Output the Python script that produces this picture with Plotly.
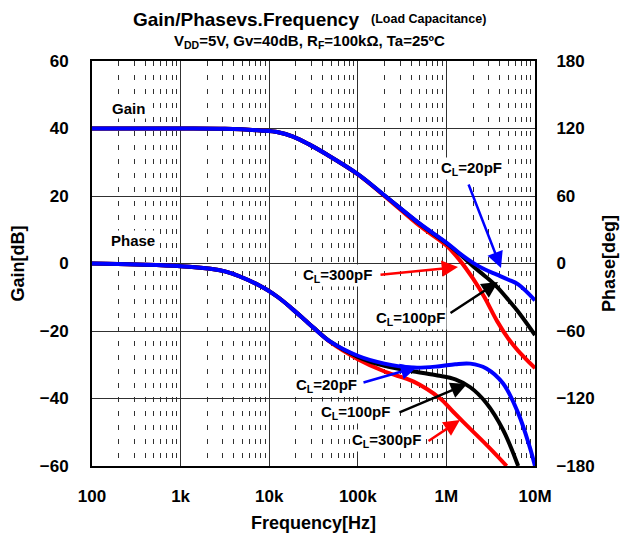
import plotly.graph_objects as go

# ---------------- data ----------------
x_tick_vals = [100, 1000, 10000, 100000, 1000000, 10000000]
x_tick_labels = ["100", "1k", "10k", "100k", "1M", "10M"]
gain_tick_vals = [-60, -40, -20, 0, 20, 40, 60]
phase_tick_vals = [-180, -120, -60, 0, 60, 120, 180]

gain_freq_hz = [100, 1000, 3160, 7940, 12600, 18600, 28200, 44700, 100000, 204000, 501000,
                1000000, 1410000, 2000000, 2690000, 3720000, 5010000, 6460000, 10000000]
gain_20pF = [40, 40, 39.9, 39.4, 38.9, 37.6, 35.3, 32.3, 26.5, 20.0, 11.8,
             6.2, 3.0, 0.2, -1.7, -3.3, -4.8, -6.2, -10.9]
gain_100pF = [40, 40, 39.9, 39.4, 38.9, 37.6, 35.3, 32.3, 26.5, 20.0, 11.7,
              6.0, 2.8, -0.8, -3.6, -6.9, -10.8, -14.3, -21.2]
gain_300pF = [40, 40, 39.9, 39.4, 38.9, 37.6, 35.3, 32.3, 26.4, 19.8, 11.1,
              5.3, 1.0, -4.5, -10.0, -17.0, -22.3, -25.9, -31.0]

phase_freq_20pF = [100, 316, 1000, 3160, 7940, 12600, 18600, 25100, 31600, 49000, 100000, 200000,
                   427000, 794000, 1260000, 1860000, 2820000, 4370000, 6460000, 8710000, 10000000]
phase_20pF = [0, -0.8, -2.4, -7, -20, -30, -41, -50, -57, -69.5, -82, -89,
              -92.5, -91.5, -89.5, -89, -93.3, -106.7, -133, -163, -180]

phase_freq_100pF = [100, 316, 1000, 3160, 7940, 12600, 18600, 25100, 31600, 49000, 100000, 200000,
                    427000, 794000, 1260000, 1860000, 2820000, 4370000, 6460000]
phase_100pF = [0, -0.8, -2.4, -7, -20, -30, -41, -50, -57, -69.5, -83, -91,
               -96, -99.5, -103, -110, -124, -148, -180]

phase_freq_300pF = [100, 316, 1000, 3160, 7940, 12600, 18600, 25100, 31600, 49000, 100000, 200000,
                    427000, 851000, 1200000, 1860000, 2820000, 4790000]
phase_300pF = [0, -0.8, -2.4, -7, -20, -30, -41, -50, -57, -70, -85, -96,
               -105, -120, -132, -147, -161, -180]

# ---------------- layout geometry ----------------
# page has an 8px body margin, so the figure is offset by 8px
OFF = 8
W, H = 631 - OFF, 540 - OFF
PL, PT, PR, PB = 92, 61, 535, 466          # plot area in page pixels
ML, MT = PL - OFF, PT - OFF
MR, MB = W - (PR - OFF), H - (PB - OFF)

FONT = "Liberation Sans, Arial, sans-serif"


def paper(px, py):
    return (px - PL) / (PR - PL), (PB - py) / (PB - PT)


fig = go.Figure()

series = [
    ("300pF", "#ff0000", gain_300pF, phase_freq_300pF, phase_300pF),
    ("100pF", "#000000", gain_100pF, phase_freq_100pF, phase_100pF),
    ("20pF", "#0000ff", gain_20pF, phase_freq_20pF, phase_20pF),
]
for name, color, g, pf, p in series:
    fig.add_trace(go.Scatter(x=gain_freq_hz, y=g, mode="lines", yaxis="y",
                             line=dict(color=color, width=4, shape="spline", smoothing=1.0),
                             showlegend=False, hoverinfo="skip", name="Gain " + name))
for name, color, g, pf, p in series:
    fig.add_trace(go.Scatter(x=pf, y=p, mode="lines", yaxis="y2",
                             line=dict(color=color, width=4, shape="spline", smoothing=1.0),
                             showlegend=False, hoverinfo="skip", name="Phase " + name))

minor_vals = [m * 10 ** e for e in range(2, 7) for m in range(2, 10)]
grid_col = "#303030"
tickfont = dict(family=FONT, size=17, color="black", weight="bold")

fig.update_layout(
    width=W, height=H,
    margin=dict(l=ML, r=MR, t=MT, b=MB, autoexpand=False),
    paper_bgcolor="white", plot_bgcolor="white",
    font=dict(family=FONT, color="black"),
    xaxis=dict(type="log", range=[2, 7], tickmode="array", tickvals=x_tick_vals,
               ticktext=x_tick_labels, tickfont=tickfont, ticks="", ticklabelstandoff=14,
               showgrid=True, gridcolor=grid_col, gridwidth=1,
               minor=dict(tickmode="array", tickvals=minor_vals, showgrid=True,
                          gridcolor=grid_col, gridwidth=1, griddash="5px,9px", ticks=""),
               showline=True, linecolor="black", linewidth=2, mirror=True, zeroline=False,
               title=dict(text="Frequency[Hz]", standoff=11,
                          font=dict(family=FONT, size=18, color="black", weight="bold"))),
    yaxis=dict(range=[-60, 60], tickmode="array", tickvals=gain_tick_vals,
               tickfont=tickfont, ticks="", ticklabelstandoff=18,
               showgrid=True, gridcolor=grid_col, gridwidth=1, zeroline=False,
               showline=True, linecolor="black", linewidth=2, mirror=True,
               title=dict(text="Gain[dB]", standoff=16,
                          font=dict(family=FONT, size=18, color="black", weight="bold"))),
    yaxis2=dict(range=[-180, 180], tickmode="array", tickvals=phase_tick_vals,
                tickfont=tickfont, ticks="", ticklabelstandoff=16,
                overlaying="y", side="right", showgrid=False, zeroline=False,
                showline=True, linecolor="black", linewidth=2,
                title=dict(text="Phase[deg]", standoff=9,
                           font=dict(family=FONT, size=18, color="black", weight="bold"))),
)

annotations = []


def text_ann(txt, px, py, size=15, bg="white", xanchor="center", pad=1):
    x, y = paper(px, py)
    annotations.append(dict(text=txt, x=x, y=y, xref="paper", yref="paper",
                            showarrow=False, xanchor=xanchor, yanchor="middle",
                            bgcolor=bg, borderpad=pad,
                            font=dict(family=FONT, size=size, color="black", weight="bold")))


def arrow_ann(tail, head, color):
    x, y = paper(*head)
    annotations.append(dict(text="", x=x, y=y, xref="paper", yref="paper",
                            ax=tail[0] - head[0], ay=tail[1] - head[1],
                            axref="pixel", ayref="pixel", showarrow=True,
                            arrowhead=2, arrowsize=1.3, arrowwidth=2.5, arrowcolor=color))


# title
text_ann("Gain/Phasevs.Frequency", 246, 19, size=19, bg=None, pad=0)
text_ann("(Load Capacitance)", 428, 19, size=12.5, bg=None, pad=0)
text_ann("V<sub>DD</sub>=5V, Gv=40dB, R<sub>F</sub>=100kΩ, Ta=25ºC", 309, 41, size=15, bg=None, pad=0)

text_ann("Gain", 128, 108, size=15)
text_ann("Phase", 133, 240, size=15)

text_ann("C<sub>L</sub>=20pF", 471, 168)
text_ann("C<sub>L</sub>=300pF", 337, 275)
text_ann("C<sub>L</sub>=100pF", 410, 318)
text_ann("C<sub>L</sub>=20pF", 326, 385)
text_ann("C<sub>L</sub>=100pF", 355, 412)
text_ann("C<sub>L</sub>=300pF", 386, 440)

arrow_ann((468, 183), (501, 268), "#0000ff")
arrow_ann((379, 275), (458, 267), "#ff0000")
arrow_ann((449, 314), (498, 282), "#000000")
arrow_ann((362, 383), (417, 367), "#0000ff")
arrow_ann((398, 413), (467, 384), "#000000")
arrow_ann((427, 442), (460, 420), "#ff0000")

fig.update_layout(annotations=annotations)

fig.write_html("out.html")
